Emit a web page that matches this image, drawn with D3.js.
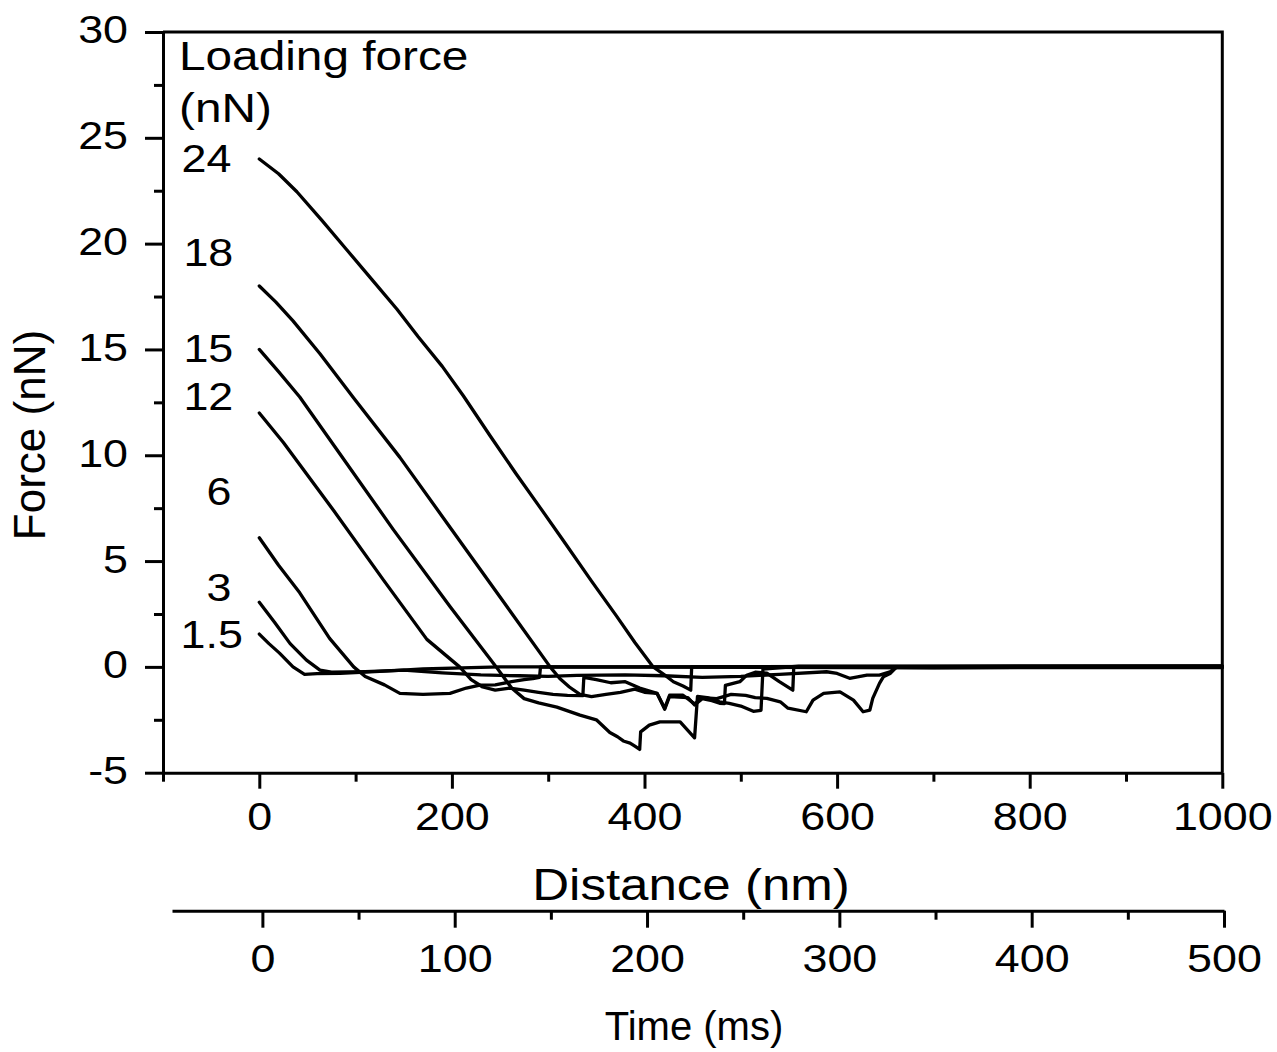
<!DOCTYPE html>
<html>
<head>
<meta charset="utf-8">
<script src="https://cdn.jsdelivr.net/npm/d3@7"></script>
<style>
  body { margin: 0; background: #fff; }
  svg { display: block; }
</style>
</head>
<body>
<div id="chart"></div>
<script>
// loading forces (nN) and the curve each one produced: [distance nm, force nN]
const loadForces = ['24', '18', '15', '12', '6', '3', '1.5'];

const curve24 = [[0,24],[20,23.3],[39,22.45],[65,21.1],[91,19.7],[117,18.3],[143,16.9],[165,15.6],[190,14.2],[212,12.8],
    [240,10.9],[267,9.1],[292,7.5],[316,5.95],[345,4.05],[371,2.4],[390,1.15],[409,0],
    [420,-0.35],[430,-0.7],[440,-0.9],[448,-1.1],[449,0],[700,0.04],[1000,0.05]];
const curve18 = [[0,18],[17,17.25],[35,16.35],[63,14.8],[98,12.7],[146,9.9],[198,6.6],[250,3.3],[302,0],[312,-0.55],[322,-0.95],
    [333,-1.3],[345,-1.4],[360,-1.3],[375,-1.2],[390,-1.05],[400,-1.2],[413,-1.25],[421,-2.0],[426,-1.4],[445,-1.45],
    [452,-1.8],[460,-1.5],[470,-1.6],[478,-1.72],[483,-1.73],[484,-0.87],[490,-0.8],[499,-0.7],[506,-0.4],[515,-0.25],
    [527,-0.3],[540,-0.7],[554,-1.1],[555,0],[700,-0.03],[1000,-0.02]];
const curve15 = [[0,15],[20,13.95],[42,12.75],[77,10.5],[139,6.5],[198,2.85],[246,0],[262,-1.0],[275,-1.5],[290,-1.7],
    [309,-1.9],[333,-2.28],[350,-2.5],[364,-3.1],[372,-3.3],[378,-3.5],[385,-3.6],[390,-3.75],[395,-3.9],[396,-3.07],
    [405,-2.75],[416,-2.6],[437,-2.6],[452,-3.35],[455,-1.4],[465,-1.45],[478,-1.65],[488,-1.72],[500,-1.85],[513,-2.1],
    [521,-2.05],[523,-0.1],[560,0.03],[700,0.02],[1000,0.03]];
const curve12 = [[0,12],[25,10.6],[77,7.4],[129,4.1],[174,1.3],[208,0],[220,-0.6],[232,-0.95],[245,-1.1],[260,-1.0],
    [275,-1.1],[290,-1.2],[305,-1.3],[320,-1.35],[336,-1.36],[337,-0.5],[350,-0.6],[365,-0.75],[380,-0.7],[395,-1.0],
    [413,-1.25],[421,-1.95],[426,-1.34],[440,-1.34],[452,-1.75],[460,-1.45],[475,-1.5],[490,-1.3],[505,-1.35],[515,-1.45],
    [527,-1.49],[541,-1.65],[549,-1.95],[568,-2.12],[575,-1.57],[586,-1.25],[603,-1.18],[617,-1.57],[627,-2.12],[634,-2.04],
    [637,-1.49],[644,-0.78],[648,-0.47],[655,-0.31],[662,0],[800,0.01],[1000,0.02]];
const curve6 = [[0,6.1],[20,4.8],[42,3.5],[73,1.35],[98,0],[110,-0.45],[130,-0.85],[146,-1.25],[170,-1.3],[198,-1.25],
    [215,-1.0],[229,-0.86],[245,-0.85],[262,-0.7],[275,-0.6],[284,-0.55],[291,-0.5],[292,0],[700,-0.04],[1000,-0.03]];
const curve3 = [[0,3.05],[16,2.1],[32,1.1],[49,0.32],[63,-0.15],[75,-0.25],[110,-0.22],[150,-0.15],[190,-0.28],[230,-0.38],
    [270,-0.42],[300,-0.45],[330,-0.4],[380,-0.38],[420,-0.42],[460,-0.5],[500,-0.45],[540,-0.35],[589,-0.23],[600,-0.31],
    [613,-0.54],[631,-0.39],[644,-0.39],[655,-0.23],[662,0],[800,0],[1000,0]];
const curve1_5 = [[0,1.55],[10,1.1],[21,0.65],[35,0],[47,-0.35],[60,-0.32],[84,-0.3],[110,-0.25],[140,-0.18],[170,-0.1],
    [210,-0.05],[250,0],[700,0.01],[1000,0]];
const curves = [curve24, curve18, curve15, curve12, curve6, curve3, curve1_5];

// where each loading-force label sits (distance nm, force nN)
const labelDist = [-29, -27, -27, -27, -29, -29, -17];
const labelForce = [24.05, 19.6, 15.05, 12.8, 8.3, 3.8, 1.55];

// axis ticks
const distMajor = [0, 200, 400, 600, 800, 1000];
const distMinor = [-100, 100, 300, 500, 700, 900];
const forceMajor = [-5, 0, 5, 10, 15, 20, 25, 30];
const forceMinor = [-2.5, 2.5, 7.5, 12.5, 17.5, 22.5, 27.5];
const timeMajor = [0, 100, 200, 300, 400, 500];
const timeMinor = [50, 150, 250, 350, 450];

const width = 1277, height = 1052;
const font = '"Liberation Sans", Arial, Helvetica, sans-serif';
const stretch = 1.15;
const axisWidth = 3;

const svg = d3.select('#chart').append('svg')
    .attr('width', width)
    .attr('height', height)
    .style('background', '#fff');

const x = d3.scaleLinear().domain([-100, 1000]).range([163, 1222.3]);
const y = d3.scaleLinear().domain([-5, 30]).range([772.7, 32]);
const t = d3.scaleLinear().domain([-47, 500]).range([172, 1224]);

function styleAxis(g) {
    g.selectAll('.domain, .tick line')
        .attr('stroke', '#000')
        .attr('stroke-width', axisWidth);
}

// distance axis
const gx = svg.append('g').attr('transform', `translate(0,${y(-5)})`);
gx.call(d3.axisBottom(x).tickValues(distMajor).tickSize(16).tickSizeOuter(0).tickFormat(d => String(d)));
gx.append('g')
    .call(d3.axisBottom(x).tickValues(distMinor).tickSize(9).tickSizeOuter(0).tickFormat(''))
    .select('.domain').remove();
styleAxis(gx);
gx.selectAll('.tick text')
    .attr('y', 0).attr('dy', 0)
    .attr('transform', `translate(0,57) scale(${stretch},1)`)
    .attr('font-size', 39).attr('font-family', font).attr('fill', '#000');

// force axis
const gy = svg.append('g').attr('transform', `translate(${x(-100)},0)`);
gy.call(d3.axisLeft(y).tickValues(forceMajor).tickSize(18).tickSizeOuter(0).tickFormat(d => String(d)));
gy.append('g')
    .call(d3.axisLeft(y).tickValues(forceMinor).tickSize(9).tickSizeOuter(0).tickFormat(''))
    .select('.domain').remove();
styleAxis(gy);
gy.selectAll('.tick text')
    .attr('x', 0).attr('dy', '0.28em')
    .attr('transform', `translate(-35,0) scale(${stretch},1)`)
    .attr('font-size', 39).attr('font-family', font).attr('fill', '#000');

// frame: top and right
svg.append('path')
    .attr('d', `M${x(-100)},${y(30)}H${x(1000)}V${y(-5)}`)
    .attr('fill', 'none')
    .attr('stroke', '#000')
    .attr('stroke-width', axisWidth);

// time axis
const gt = svg.append('g').attr('transform', 'translate(0,910.7)');
gt.call(d3.axisBottom(t).tickValues(timeMajor).tickSize(17).tickSizeOuter(0).tickFormat(d => String(d)));
gt.append('g')
    .call(d3.axisBottom(t).tickValues(timeMinor).tickSize(9).tickSizeOuter(0).tickFormat(''))
    .select('.domain').remove();
styleAxis(gt);
gt.selectAll('.tick text')
    .attr('y', 0).attr('dy', 0)
    .attr('transform', `translate(0,61) scale(${stretch},1)`)
    .attr('font-size', 39).attr('font-family', font).attr('fill', '#000');

// curves
const line = d3.line()
    .x(d => x(d[0]))
    .y(d => y(d[1]));

svg.append('g')
    .selectAll('path')
    .data(curves)
    .join('path')
    .attr('d', line)
    .attr('fill', 'none')
    .attr('stroke', '#000')
    .attr('stroke-width', 3.3)
    .attr('stroke-linejoin', 'round')
    .attr('stroke-linecap', 'round');

// loading force labels
svg.append('g')
    .selectAll('text')
    .data(loadForces)
    .join('text')
    .attr('transform', (d, i) => `translate(${x(labelDist[i])},${y(labelForce[i])}) scale(${stretch},1)`)
    .attr('dy', '0.36em')
    .attr('text-anchor', 'end')
    .attr('font-size', 39)
    .attr('font-family', font)
    .text(d => d);

const legendTitle = svg.append('g')
    .attr('font-family', font)
    .attr('font-size', 41);
legendTitle.append('text')
    .attr('transform', 'translate(179,70) scale(1.165,1)')
    .text('Loading force');
legendTitle.append('text')
    .attr('transform', 'translate(179,121.7) scale(1.165,1)')
    .text('(nN)');

// axis titles
svg.append('text')
    .attr('transform', 'translate(691,900) scale(1.16,1)')
    .attr('text-anchor', 'middle')
    .attr('font-family', font)
    .attr('font-size', 44)
    .text('Distance (nm)');

svg.append('text')
    .attr('transform', 'translate(694,1040)')
    .attr('text-anchor', 'middle')
    .attr('font-family', font)
    .attr('font-size', 40)
    .text('Time (ms)');

svg.append('text')
    .attr('transform', 'translate(45,435) rotate(-90)')
    .attr('text-anchor', 'middle')
    .attr('font-family', font)
    .attr('font-size', 44)
    .text('Force (nN)');
</script>
</body>
</html>
